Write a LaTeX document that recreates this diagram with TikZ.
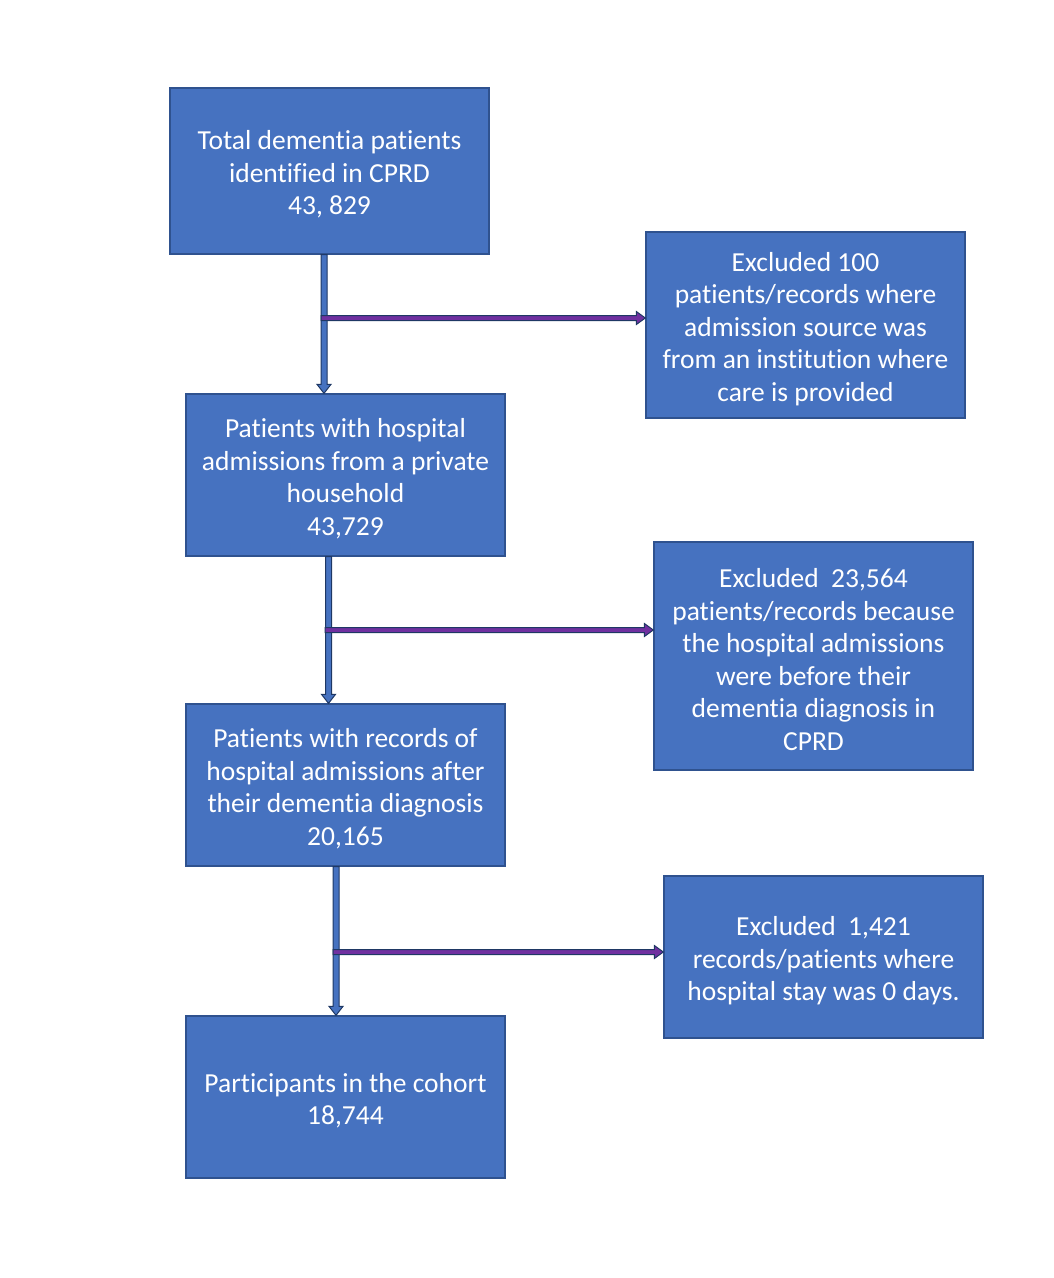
\documentclass[tikz,border=0pt]{standalone}
\usepackage{fontspec}
\setmainfont[Ligatures=NoCommon]{Carlito}
\usetikzlibrary{calc}
\definecolor{boxfill}{HTML}{4672C0}
\definecolor{boxline}{HTML}{2F528F}
\definecolor{arrline}{HTML}{1F3864}
\definecolor{purp}{HTML}{7030A0}
\newcommand{\fl}{\rule{0pt}{26.5pt}}
\newcommand{\vblock}[2]{%
  \filldraw[draw=arrline, fill=boxfill, line width=1pt, line join=miter]
    ($(#1)+(-3,0)$) -- ($(#2)+(-3,-9)$) -- ($(#2)+(-7,-9)$) -- (#2) --
    ($(#2)+(7,-9)$) -- ($(#2)+(3,-9)$) -- ($(#1)+(3,0)$) -- cycle;}
\newcommand{\hblock}[2]{%
  \filldraw[draw=arrline, fill=purp, line width=1pt, line join=miter]
    ($(#1)+(0,-2.5)$) -- ($(#2)+(-9,-2.5)$) -- ($(#2)+(-9,-6.5)$) -- (#2) --
    ($(#2)+(-9,6.5)$) -- ($(#2)+(-9,2.5)$) -- ($(#1)+(0,2.5)$) -- cycle;}
\begin{document}
\begin{tikzpicture}[x=1pt,y=-1pt,
  box/.style={draw=boxline, line width=1.3pt, fill=boxfill, text=white, align=center,
    inner sep=0pt, minimum width=319pt, font=\fontsize{27.5}{32.5}\selectfont}]
\useasboundingbox (0,0) rectangle (1054,1278);
\node[box, minimum height=166pt] (b1) at (329.5,171) {\fl Total dementia patients\\identified in CPRD\\43, 829};
\node[box, minimum height=186pt] (e1) at (805.5,325) {\fl Excluded 100\\patients/records where\\admission source was\\from an institution where\\care is provided};
\node[box, minimum height=162pt] (b2) at (345.5,475) {\fl Patients with hospital\\admissions from a private\\household\\43,729};
\node[box, minimum height=228pt] (e2) at (813.5,656) {\fl Excluded~ 23,564\\patients/records because\\the hospital admissions\\were before their\\dementia diagnosis in\\CPRD};
\node[box, minimum height=162pt] (b3) at (345.5,785) {\fl Patients with records of\\hospital admissions after\\their dementia diagnosis\\20,165};
\node[box, minimum height=162pt] (e3) at (823.5,957) {\fl Excluded~ 1,421\\records/patients where\\hospital stay was 0 days.};
\node[box, minimum height=162pt] (b4) at (345.5,1097) {\fl Participants in the cohort\\18,744};
% arrows
\coordinate (v1s) at ($(b1.south)+(-5.5,0)$);
\coordinate (v1e) at (v1s |- b2.north);
\coordinate (h1s) at (321,318);
\coordinate (h1e) at (h1s -| e1.west);
\coordinate (v2s) at ($(b2.south)+(-17,0)$);
\coordinate (v2e) at (v2s |- b3.north);
\coordinate (h2s) at (325,630);
\coordinate (h2e) at (h2s -| e2.west);
\coordinate (v3s) at ($(b3.south)+(-9.5,0)$);
\coordinate (v3e) at (v3s |- b4.north);
\coordinate (h3s) at (333,952);
\coordinate (h3e) at (h3s -| e3.west);
\vblock{v1s}{v1e}
\hblock{h1s}{h1e}
\vblock{v2s}{v2e}
\hblock{h2s}{h2e}
\vblock{v3s}{v3e}
\hblock{h3s}{h3e}
\end{tikzpicture}
\end{document}
